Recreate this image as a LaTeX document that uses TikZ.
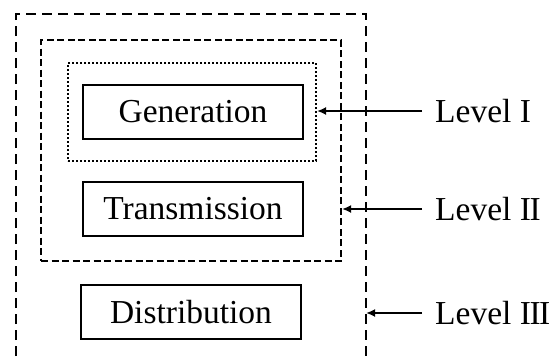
\documentclass[tikz,border=0pt]{standalone}
\usepackage{fontspec}
\setmainfont{Liberation Serif}
\usetikzlibrary{arrows.meta}
\newcommand{\romtwo}{I\kern-1.5ptI}
\newcommand{\romthree}{I\kern-1.5ptI\kern-1.5ptI}
\begin{document}
\begin{tikzpicture}[x=1pt,y=-1pt,
  stagebox/.style={draw,line width=2.2pt,minimum width=220pt,minimum height=54pt,inner sep=0pt,font=\fontsize{33.5}{38}\selectfont},
  levellabel/.style={anchor=west,inner sep=0pt,font=\fontsize{33.5}{38}\selectfont},
  outerdash/.style={line width=2pt,dash pattern=on 10pt off 6pt},
  middash/.style={line width=2pt,dash pattern=on 7pt off 3.5pt},
  innerdot/.style={line width=2pt,dash pattern=on 2pt off 2pt},
  pointer/.style={line width=2pt,-{Latex[length=9pt,width=8pt]}}]
\useasboundingbox (0,0) rectangle (551,356);
% outer dashed frame (open at the bottom)
\coordinate (obl) at (16,356);
\coordinate (otl) at (16,14);
\coordinate (otr) at (366,14);
\coordinate (obr) at (366,356);
\draw[outerdash] (obl) -- (otl) -- (otr) -- (obr);
% middle dashed frame
\node[draw,middash,minimum width=300pt,minimum height=221pt,inner sep=0pt] (mid) at (191,150.5) {};
% inner dotted frame
\node[draw,innerdot,minimum width=248pt,minimum height=98pt,inner sep=0pt] (dot) at (192,112) {};
% stage boxes
\node[stagebox] (gen) at (193,112) {Generation};
\node[stagebox] (tra) at (193,209) {Transmission};
\node[stagebox] (dis) at (191,312) {Distribution};
% labels
\node[levellabel] (l1) at (435,111) {Level I};
\node[levellabel] (l2) at (435,209) {Level \romtwo};
\node[levellabel] (l3) at (435,313) {Level \romthree};
% arrows
\coordinate (a1) at (422,111);
\coordinate (a2) at (422,209);
\coordinate (a3) at (422,313);
\draw[pointer] (a1) -- (dot.east |- a1);
\draw[pointer] (a2) -- (mid.east |- a2);
\draw[pointer] (a3) -- (otr |- a3);
\end{tikzpicture}
\end{document}
